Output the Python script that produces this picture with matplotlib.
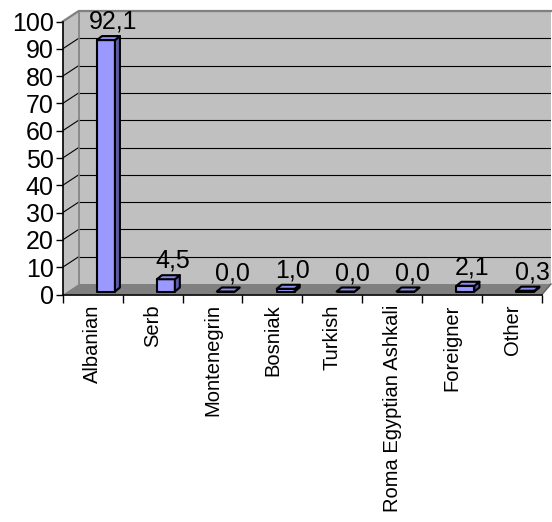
import matplotlib
matplotlib.use("Agg")
import matplotlib.pyplot as plt
from matplotlib.patches import Polygon

plt.rcParams['font.family'] = ['Liberation Sans', 'DejaVu Sans']

# data
categories = ['Albanian', 'Serb', 'Montenegrin', 'Bosniak', 'Turkish',
              'Roma Egyptian Ashkali', 'Foreigner', 'Other']
values = [92.1, 4.5, 0.0, 1.0, 0.0, 0.0, 2.1, 0.3]
yticks = list(range(0, 101, 10))

# fake 3D geometry (category units on x, value units on y)
N = len(categories)
YMAX = 100
DXL, DXR, DY = 0.267, 0.15, 3.85      # wall depth offsets
BAR_LEFT, BAR_W, BAR_Y0 = 0.572, 0.30, 1.1
BDX, BDY = 0.083, 1.47                  # bar depth

WALL = '#C0C0C0'
FLOOR = '#808080'
FRONT = '#9999FF'
TOP = '#8C8CEE'
SIDE = '#5C5CA8'

fig = plt.figure(figsize=(5.52, 5.22), dpi=100)
ax = fig.add_axes([0.1136, 0.4358, 0.8846, 0.5431])
ax.set_xlim(0, N + DXR)
ax.set_ylim(0, YMAX + DY)
for s in ax.spines.values():
    s.set_visible(False)
ax.patch.set_alpha(0)

# back wall, side wall, floor
ax.add_patch(Polygon([(DXL, DY), (N + DXR, DY), (N + DXR, YMAX + DY), (DXL, YMAX + DY)],
                     closed=True, fc=WALL, ec='none', zorder=1))
ax.add_patch(Polygon([(0, 0), (DXL, DY), (DXL, YMAX + DY), (0, YMAX)],
                     closed=True, fc=WALL, ec='none', zorder=1))
for t in yticks[1:-1]:
    ax.plot([DXL, N + DXR], [t + DY, t + DY], color='black', lw=0.8, zorder=2)
    ax.plot([0, DXL], [t, t + DY], color='black', lw=0.8, zorder=2)
ax.plot([0, DXL, N + DXR], [YMAX, YMAX + DY, YMAX + DY], color='#808080', lw=1.6,
        zorder=2, clip_on=False)
ax.plot([DXL, DXL], [DY, YMAX + DY], color='#808080', lw=1.2, zorder=2)
ax.add_patch(Polygon([(0, 0), (N, 0), (N + DXR, DY), (DXL, DY)],
                     closed=True, fc=FLOOR, ec='none', zorder=3))
ax.plot([N, N + DXR], [0, DY], color='#606060', lw=1, zorder=3, clip_on=False)
ax.plot([0, 0], [0, YMAX], color='black', lw=1.2, zorder=6, clip_on=False)
ax.plot([0, N], [0, 0], color='black', lw=1.2, zorder=6, clip_on=False)

# bars
for i, v in enumerate(values):
    x0 = i + BAR_LEFT
    x1 = x0 + BAR_W
    y0 = BAR_Y0
    y1 = v + BAR_Y0
    kw = dict(closed=True, ec='black', lw=1.5, joinstyle='round', zorder=5, clip_on=False)
    ax.add_patch(Polygon([(x0, y0), (x1, y0), (x1, y1), (x0, y1)], fc=FRONT, **kw))
    ax.add_patch(Polygon([(x1, y0), (x1 + BDX, y0 + BDY), (x1 + BDX, y1 + BDY), (x1, y1)],
                         fc=SIDE, **kw))
    ax.add_patch(Polygon([(x0, y1), (x1, y1), (x1 + BDX, y1 + BDY), (x0 + BDX, y1 + BDY)],
                         fc=TOP, **kw))
    ax.text(i + 0.84, v + 5.3, f"{v:.1f}".replace('.', ','), ha='center', va='baseline',
            fontsize=18, zorder=7, clip_on=False)

# axes ticks
ax.set_yticks(yticks)
ax.tick_params(axis='y', direction='out', length=5, width=1, pad=1.5, labelsize=18)
ax.set_xticks(range(N + 1))
ax.set_xticklabels([])
ax.set_xticks([i + 0.5 for i in range(N)], minor=True)
ax.set_xticklabels(categories, minor=True, rotation=90, fontsize=14.5)
ax.tick_params(axis='x', which='minor', length=0, pad=7)
ax.tick_params(axis='x', which='major', direction='out', length=6, width=1)

fig.savefig('out.png', dpi=100)
